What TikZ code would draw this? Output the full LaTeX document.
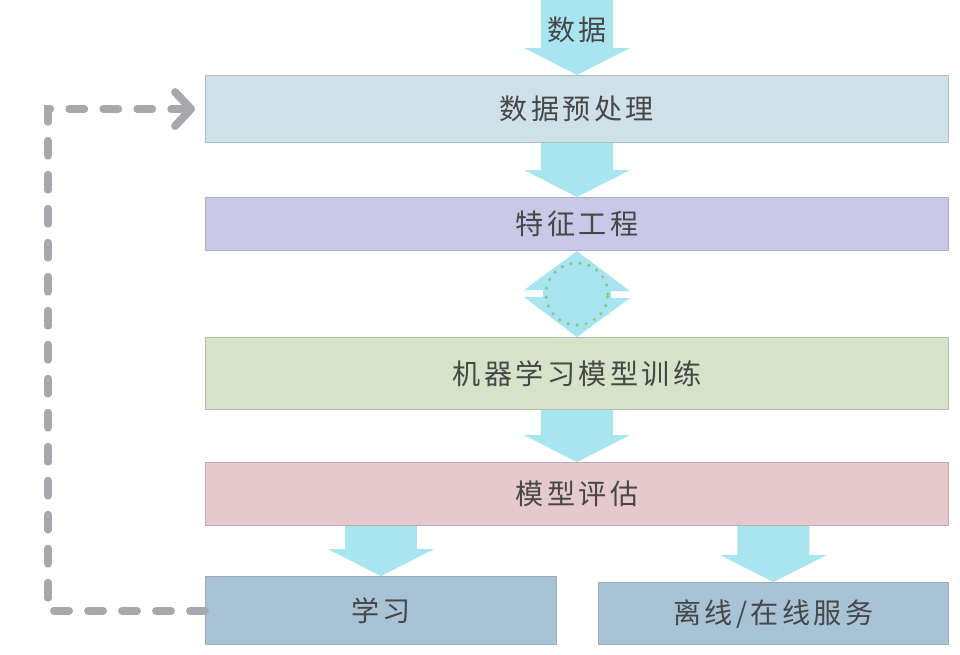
\documentclass[tikz,border=0pt]{standalone}
\usepackage{fontspec}
\newfontfamily\cjk[LetterSpace=12]{Noto Sans CJK SC}
\usetikzlibrary{arrows.meta, positioning, calc}
\definecolor{arrowcyan}{HTML}{A9E5F1}
\definecolor{txtgray}{HTML}{474747}
\definecolor{loopgray}{HTML}{A7A8AD}

% block arrow pointing down, from #1 to tip #2
\newcommand{\fatarrow}[2]{%
  \fill[flow] ($(#1)+(-36,0)$) -- ($(#2)+(-36,-27)$) -- ($(#2)+(-53,-27)$) -- (#2)
    -- ($(#2)+(53,-27)$) -- ($(#2)+(36,-27)$) -- ($(#1)+(36,0)$) -- cycle;}

\begin{document}
\begin{tikzpicture}[x=0.02cm, y=-0.02cm,
    font=\cjk\fontsize{16}{18}\selectfont,
    box/.style={draw=#1!70!black!70, fill=#1, line width=0.6pt, text=txtgray,
                minimum width=14.86cm, inner sep=0pt},
    flow/.style={fill=arrowcyan},
    feedback/.style={draw=loopgray, line width=4.5pt, line cap=round,
                     dash pattern=on 0.3cm off 0.38cm,
                     -{Straight Barb[length=0.32cm, width=0.68cm, round]}}]
    \useasboundingbox (0,0) rectangle (960,654);
    \definecolor{c1}{HTML}{CEE0E8}
    \definecolor{c2}{HTML}{C9C8E6}
    \definecolor{c3}{HTML}{D6E3C9}
    \definecolor{c4}{HTML}{E5C9CD}
    \definecolor{c5}{HTML}{A8C3D6}

    \node[box=c1, minimum height=1.34cm, anchor=north west] (pre) at (205,75) {数据预处理};
    \node[box=c2, minimum height=1.06cm, below=1.08cm of pre] (feat) {特征工程};
    \node[box=c3, minimum height=1.44cm, below=1.72cm of feat] (train) {机器学习模型训练};
    \node[box=c4, minimum height=1.26cm, below=1.04cm of train] (eval) {模型评估};
    \node[box=c5, minimum height=1.36cm, minimum width=7.02cm,
          below=1.0cm of eval.south west, anchor=north west] (learn) {学习};
    \node[box=c5, minimum height=1.24cm, minimum width=7.0cm,
          below=1.12cm of eval.south east, anchor=north east] (serve) {离线/在线服务};

    % arrows
    \coordinate (in) at (pre.north |- 0,0);
    \fatarrow{in}{pre.north}
    \node[text=txtgray] (data) at ($(in)!0.4!(pre.north)$) {数据};
    \fatarrow{pre.south}{feat.north}
    \fatarrow{train.south}{eval.north}
    \coordinate (l0) at (eval.south -| learn.north);
    \coordinate (s0) at (eval.south -| serve.north);
    \fatarrow{l0}{learn.north}
    \fatarrow{s0}{serve.north}

    % double arrow between feature engineering and training
    \coordinate (mid) at ($(feat.south)!0.5!(train.north)$);
    \fill[flow] (feat.south) -- ++(53,40) -- ++(-19,0) -- ++(0,7) -- ++(19,0)
        -- (train.north) -- ++(-53,-40) -- ++(19,0) -- ++(0,-7) -- ++(-19,0) -- cycle;
    \draw[draw=green!45!gray!70, line width=2pt, line cap=round,
          dash pattern=on 0pt off 5.2pt] (mid) circle[radius=0.62cm];

    % feedback loop
    \draw[feedback] (learn.west) -- ++(-157,0) |- ([xshift=-0.2cm]pre.west);
\end{tikzpicture}
\end{document}
